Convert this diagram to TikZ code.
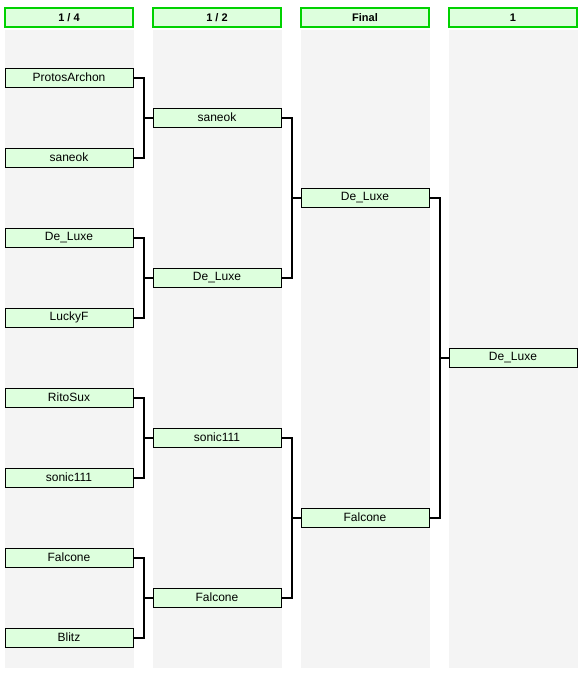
\documentclass[tikz,border=0pt]{standalone}
\usepackage{fontspec}
\setmainfont{Liberation Sans}
\definecolor{boxgreen}{RGB}{221,255,221}
\definecolor{headgreen}{RGB}{0,210,0}
\definecolor{colgray}{RGB}{244,244,244}
\begin{document}
\begin{tikzpicture}[x=0.75pt,y=-0.75pt,
    col/.style={fill=colgray,draw=none},
    head/.style={draw=headgreen,line width=1.2pt,fill=boxgreen,minimum width=96pt,
      minimum height=14.25pt,inner sep=0pt,font=\bfseries\fontsize{8.25}{9}\selectfont},
    player/.style={draw=black,line width=0.75pt,fill=boxgreen,minimum width=96pt,
      minimum height=14.25pt,inner sep=0pt,font=\fontsize{9}{10}\selectfont},
    link/.style={line width=1.5pt}]
    \useasboundingbox (0,0) rectangle (584,686);
    % colonne grigie
    \foreach \x in {5,153,301,449}
        \fill[col] (\x,30) rectangle ++(129,638);
    % intestazioni dei turni
    \node[head] (h1) at (69, 17.5) {1 / 4};
    \node[head] (h2) at (217, 17.5) {1 / 2};
    \node[head] (h3) at (365, 17.5) {Final};
    \node[head] (h4) at (513, 17.5) {1};
    % quarti
    \node[player] (q1) at (69, 77.5) {ProtosArchon};
    \node[player] (q2) at (69, 157.5) {saneok};
    \node[player] (q3) at (69, 237.5) {De\_Luxe};
    \node[player] (q4) at (69, 317.5) {LuckyF};
    \node[player] (q5) at (69, 397.5) {RitoSux};
    \node[player] (q6) at (69, 477.5) {sonic111};
    \node[player] (q7) at (69, 557.5) {Falcone};
    \node[player] (q8) at (69, 637.5) {Blitz};
    % semifinali
    \node[player] (s1) at (217, 117.5) {saneok};
    \node[player] (s2) at (217, 277.5) {De\_Luxe};
    \node[player] (s3) at (217, 437.5) {sonic111};
    \node[player] (s4) at (217, 597.5) {Falcone};
    % finale
    \node[player] (f1) at (365, 197.5) {De\_Luxe};
    \node[player] (f2) at (365, 517.5) {Falcone};
    % vincitore
    \node[player] (w) at (513, 357.5) {De\_Luxe};
    % collegamenti
    \draw[link] (q1.east) -- ++(10.5,0) |- (s1.west);
    \draw[link] (q2.east) -- ++(10.5,0) |- (s1.west);
    \draw[link] (q3.east) -- ++(10.5,0) |- (s2.west);
    \draw[link] (q4.east) -- ++(10.5,0) |- (s2.west);
    \draw[link] (q5.east) -- ++(10.5,0) |- (s3.west);
    \draw[link] (q6.east) -- ++(10.5,0) |- (s3.west);
    \draw[link] (q7.east) -- ++(10.5,0) |- (s4.west);
    \draw[link] (q8.east) -- ++(10.5,0) |- (s4.west);
    \draw[link] (s1.east) -- ++(10,0) |- (f1.west);
    \draw[link] (s2.east) -- ++(10,0) |- (f1.west);
    \draw[link] (s3.east) -- ++(10,0) |- (f2.west);
    \draw[link] (s4.east) -- ++(10,0) |- (f2.west);
    \draw[link] (f1.east) -- ++(10,0) |- (w.west);
    \draw[link] (f2.east) -- ++(10,0) |- (w.west);
\end{tikzpicture}
\end{document}
